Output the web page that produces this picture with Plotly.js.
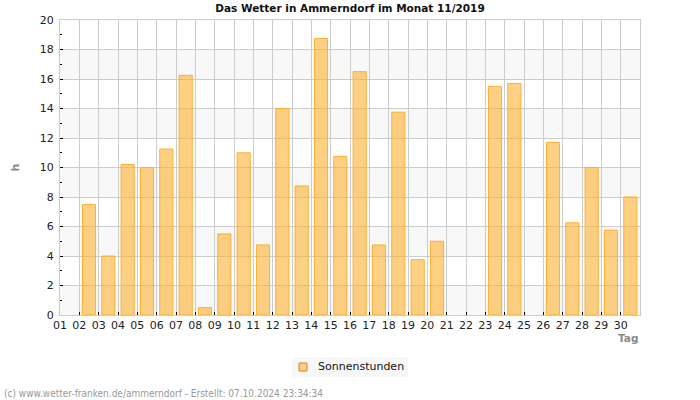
<!DOCTYPE html>
<html>
<head>
<meta charset="utf-8">
<script src="https://cdn.plot.ly/plotly-3.0.1.min.js"></script>
<style>html,body{margin:0;padding:0;background:#fff;}#chart{width:700px;height:400px;}</style>
</head>
<body>
<div id="chart"></div>
<script>
const days = [1,2,3,4,5,6,7,8,9,10,11,12,13,14,15,16,17,18,19,20,21,22,23,24,25,26,27,28,29,30];
const dayLabels = ["01","02","03","04","05","06","07","08","09","10","11","12","13","14","15","16","17","18","19","20","21","22","23","24","25","26","27","28","29","30"];
const sunHours = [0,7.5,4.0,10.2,10.0,11.25,16.25,0.5,5.5,11.0,4.75,14.0,8.75,18.75,10.75,16.5,4.75,13.75,3.75,5.0,0,0,15.5,15.7,0,11.7,6.25,10.0,5.75,8.0];
const seriesName = "Sonnenstunden";
const yTicks = [0,2,4,6,8,10,12,14,16,18,20];
const greyBands = [[0,2],[4,6],[8,10],[12,14],[16,18]];

const barX = days.map(d => d + 0.5);
const fillCol = 'rgba(251,176,50,0.6)';
const lineCol = 'rgba(251,176,50,1)';

const trace = {
  type: 'bar',
  x: barX,
  y: sunHours,
  name: seriesName,
  width: 0.68,
  marker: {color: fillCol, line: {color: lineCol, width: sunHours.map(v => v > 0 ? 1 : 0)}},
  showlegend: false,
  hoverinfo: 'x+y'
};

const shapes = greyBands.map(b => ({
  type: 'rect', xref: 'paper', yref: 'y', x0: 0, x1: 1, y0: b[0], y1: b[1],
  fillcolor: '#f8f8f8', line: {width: 0}, layer: 'below'
}));
const px = v => (v - 60) / 580;
const py = v => (315 - v) / 295;
shapes.push({type: 'rect', xref: 'paper', yref: 'paper', x0: px(292), x1: px(408), y0: py(377), y1: py(357), fillcolor: '#f7f7f7', line: {width: 0}, layer: 'above'});
shapes.push({type: 'rect', xref: 'paper', yref: 'paper', x0: px(299), x1: px(307), y0: py(371), y1: py(363), fillcolor: fillCol, line: {color: '#d08a20', width: 1}, layer: 'above'});

const layout = {
  width: 700, height: 400,
  margin: {l: 60, r: 60, t: 20, b: 85},
  paper_bgcolor: '#fff', plot_bgcolor: '#fff',
  font: {family: 'DejaVu Sans', size: 11, color: '#222'},
  title: {text: 'Das Wetter in Ammerndorf im Monat 11/2019', font: {family: 'DejaVu Sans', size: 10.5, color: '#111', weight: 'bold'}, xref: 'container', x: 0.5, xanchor: 'center', yref: 'container', y: 0.978, yanchor: 'middle'},
  xaxis: {
    type: 'linear', range: [1, 31], tickmode: 'array', tickvals: days, ticktext: dayLabels,
    showgrid: true, gridcolor: '#cccccc', gridwidth: 1,
    ticks: 'inside', ticklen: 3, tickcolor: '#000', tickwidth: 1,
    showline: true, linecolor: '#cccccc', mirror: true, zeroline: false,
    tickfont: {size: 11, color: '#222'}, fixedrange: true
  },
  yaxis: {
    range: [0, 20], tickmode: 'array', tickvals: yTicks,
    showgrid: true, gridcolor: '#cccccc', gridwidth: 1,
    ticks: 'inside', ticklen: 3, tickcolor: '#000',
    minor: {dtick: 1, ticks: 'inside', ticklen: 2, tickcolor: '#000', showgrid: false},
    showline: true, linecolor: '#cccccc', mirror: true, zeroline: false,
    tickfont: {size: 11, color: '#222'}, ticklabelstandoff: 3, fixedrange: true
  },
  bargap: 0,
  shapes: shapes,
  showlegend: false,
  annotations: [
    {text: 'h', xref: 'paper', yref: 'paper', x: -45/580, y: 0.5, xanchor: 'center', yanchor: 'middle', textangle: -90, showarrow: false, font: {size: 11, color: '#888', weight: 'bold'}},
    {text: 'Tag', xref: 'paper', yref: 'paper', x: 1, y: py(338), xanchor: 'right', yanchor: 'middle', showarrow: false, font: {size: 10.5, color: '#888', weight: 'bold'}},
    {text: seriesName, xref: 'paper', yref: 'paper', x: px(316), y: py(367), xanchor: 'left', yanchor: 'middle', showarrow: false, font: {size: 11, color: '#111'}},
    {text: '(c) www.wetter-franken.de/ammerndorf - Erstellt: 07.10.2024 23:34:34', xref: 'paper', yref: 'paper', x: px(2), y: py(393), xanchor: 'left', yanchor: 'middle', showarrow: false, font: {family: 'DejaVu Sans Condensed', size: 10, color: '#999'}}
  ]
};

Plotly.newPlot('chart', [trace], layout, {displayModeBar: false, staticPlot: true});
</script>
</body>
</html>
